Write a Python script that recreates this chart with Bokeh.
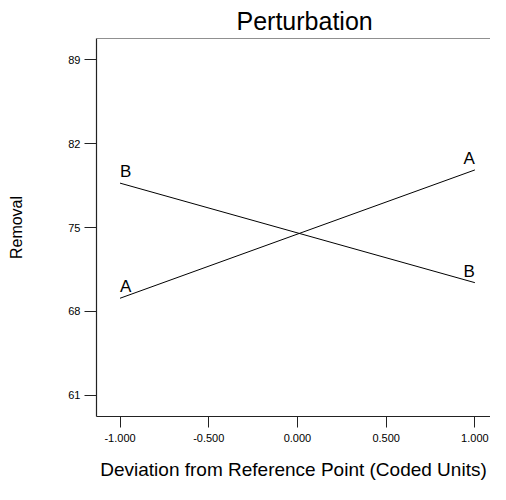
from bokeh.plotting import figure
from bokeh.models import Range1d, FixedTicker, Span, ColumnDataSource, CustomJSTickFormatter
from bokeh.core.properties import value
from bokeh.embed import file_html
from bokeh.resources import INLINE

# Data
factors = ["A", "B"]
deviation = [-1.0, 1.0]
removal_A = [69.1, 79.8]
removal_B = [78.7, 70.4]
y_ticks = [61, 68, 75, 82, 89]
x_ticks = [-1.0, -0.5, 0.0, 0.5, 1.0]

FONT = "Liberation Sans"

p = figure(width=490, height=484, output_backend="svg", toolbar_location=None,
           x_range=Range1d(-1.1326, 1.088), y_range=Range1d(59.24, 90.76),
           title="Perturbation", min_border_left=96, min_border_right=0,
           min_border_bottom=68, min_border_top=30)

p.title.align = "left"
p.title.offset = 140
p.title.standoff = 8
p.title.text_font = FONT
p.title.text_font_size = "25px"
p.title.text_font_style = "normal"
p.title.text_color = "black"

p.xgrid.visible = False
p.ygrid.visible = False
p.outline_line_color = None
p.background_fill_color = "white"
p.border_fill_color = "white"

top_line = Span(location=90.76, dimension="width", line_color="#222222", line_width=1.2)
p.add_layout(top_line)

for ax in (p.xaxis[0], p.yaxis[0]):
    ax.axis_line_color = "#222222"
    ax.axis_line_width = 1.2
    ax.major_tick_line_color = "#222222"
    ax.major_tick_in = 0
    ax.minor_tick_line_color = None
    ax.major_label_text_font = FONT
    ax.major_label_text_font_size = "11px"
    ax.major_label_text_color = "black"
    ax.axis_label_text_font = FONT
    ax.axis_label_text_font_style = "normal"
    ax.axis_label_text_color = "black"

p.xaxis.ticker = FixedTicker(ticks=x_ticks)
p.xaxis.formatter = CustomJSTickFormatter(code="return tick.toFixed(3);")
p.xaxis.major_tick_out = 11
p.xaxis.major_label_standoff = 6
p.xaxis.axis_label = "Deviation from Reference Point (Coded Units)"
p.xaxis.axis_label_text_font_size = "19px"
p.xaxis.axis_label_standoff = 14

p.yaxis.ticker = FixedTicker(ticks=y_ticks)
p.yaxis.major_tick_out = 12
p.yaxis.major_label_standoff = 4
p.yaxis.axis_label = "Removal"
p.yaxis.axis_label_text_font_size = "16px"
p.yaxis.axis_label_standoff = 40

p.line(deviation, removal_A, line_color="black", line_width=1)
p.line(deviation, removal_B, line_color="black", line_width=1)

lab = ColumnDataSource(dict(
    x=[deviation[0], deviation[0], deviation[1], deviation[1]],
    y=[removal_A[0], removal_B[0], removal_A[1], removal_B[1]],
    t=[factors[0], factors[1], factors[0], factors[1]],
    align=["left", "left", "right", "right"],
))
p.text(x="x", y="y", text="t", source=lab, text_align="align",
       text_baseline="bottom", y_offset=-2, text_font=value(FONT),
       text_font_size="17px", text_color="black")

open("out.html", "w").write(file_html(p, INLINE))
